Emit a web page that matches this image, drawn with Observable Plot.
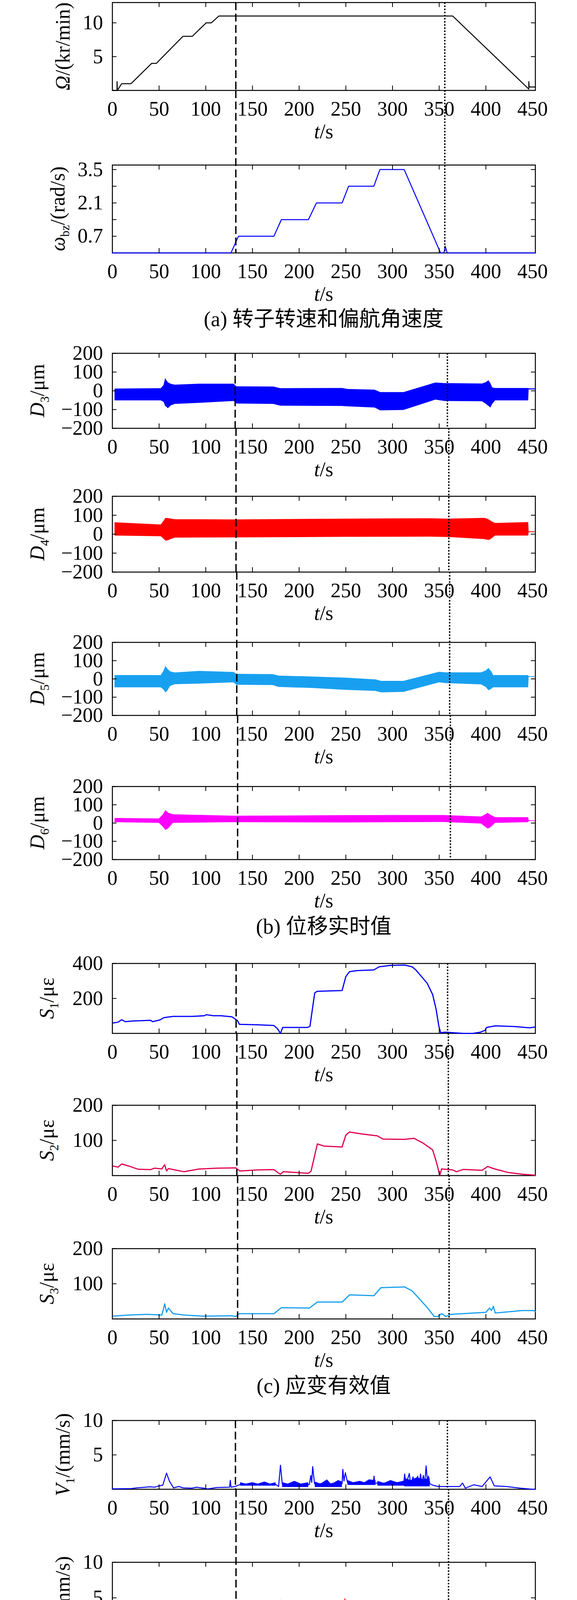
<!DOCTYPE html>
<html><head><meta charset="utf-8">
<script src="https://cdn.jsdelivr.net/npm/d3@7"></script>
<script src="https://cdn.jsdelivr.net/npm/@observablehq/plot@0.6"></script>
<style>
html,body{margin:0;background:#fff;}
#fig{position:relative;width:1476px;height:6280px;overflow:hidden;background:#fff;}
#fig svg text{font-family:'Liberation Serif','Times New Roman',serif !important;}
.cap{position:absolute;left:328px;width:1000px;text-align:center;font-family:'Liberation Serif','Noto Sans CJK SC',serif;font-size:54px;line-height:60px;color:#000;white-space:nowrap;}
</style></head><body><div id="fig"></div><script>
// ---------------- data ----------------
const xTicks = [0,50,100,150,200,250,300,350,400,450];
const captions = ["(a) 转子转速和偏航角速度","(b) 位移实时值","(c) 应变有效值","(d) 速度有效值","(e) 压力实时值"];

// (a) rotor speed (kr/min) and yaw rate (rad/s)
const rotorSpeed = [[0,0],[5,0],[5,1.3],[5.3,0],[10,1],[20,1],[42,4],[47,4],[75.5,8],[85.5,8],[100.5,10],[106,10],[114,11],[364.5,11],[446,0.2],[446,1.3],[446.4,0.5],[453,0.5]];
const yawRate = [[0,0],[127,0],[135,0.7],[173,0.7],[181,1.4],[210,1.4],[218.5,2.1],[246,2.1],[253,2.8],[280,2.8],[286.5,3.5],[312.5,3.5],[351.5,0],[355,0],[356.5,0.28],[358.5,0],[453,0]];

// (b) displacement envelopes [t, lower, upper] (µm)
const disp3 = [[2.5,-52,11],[52,-52,13],[55,-60,30],[56.6,-80,66],[59.6,-94,45],[63,-78,36],[67,-71,32],[93,-65,37],[130,-55,37],[133,-69,23],[172.6,-71,22],[180,-80,13],[246,-82,14],[252,-84,9],[281,-90,5],[287,-105,-8],[312,-103,-8],[346,-48,43],[356,-55,40],[396,-57,38],[400,-70,45],[403,-82,55],[405,-90,40],[407,-71,17],[410,-52,14],[445.5,-52,14],[446,6,12],[453,6,12]];
const disp4 = [[2.5,-8,62],[52,-12,50],[55,-25,70],[57,-35,85],[60,-33,84],[62,-28,82],[67,-19,78],[130,-18,77],[250,-15,81],[340,-14,83],[360,-16,81],[398,-27,85],[401,-30,82],[404,-31,75],[407,-20,65],[410,-8,58],[445.5,-8,63],[446,10,14],[453,10,14]];
const disp5 = [[2.5,-47,20],[52,-47,20],[55,-60,45],[57,-75,70],[59,-65,55],[62,-40,40],[67,-30,34],[93,-27,43],[130,-20,37],[133,-33,27],[172,-35,25],[178,-45,17],[215,-51,12],[250,-61,6],[282,-67,-4],[288,-75,-12],[312,-72,-12],[350,-20,38],[357,-24,35],[395,-31,35],[400,-45,45],[403,-63,59],[406,-55,40],[408,-47,20],[445.5,-47,20],[446,10,14],[453,10,14]];
const disp6 = [[2.5,4,27],[50,0,24],[54,-20,45],[57,-39,70],[60,-30,55],[65,0,47],[130,4,39],[250,2,42],[355,5,43],[395,-4,35],[399,-20,45],[402,-31,55],[405,-25,45],[410,0,31],[445.5,4,31],[446,10,14],[453,10,14]];

// (c) strain RMS (µε)
const strain1 = [[0.8,60],[6,64],[10,78],[14,67],[21.7,71],[41,75],[43,67],[51,77],[55,90],[65,97],[85,97],[98.5,101],[100.5,107],[108,101],[116,101],[128,95],[134,73],[136,52],[155.6,49],[173,45],[177,26],[180,0],[182.4,34],[209,34],[211.6,41],[216.7,232],[219.5,241],[246,245],[250,325],[254,353],[262,359],[280,363],[285.7,381],[297.5,389],[313,391],[321,381],[325,363],[337,288],[343,222],[346.7,138],[349.5,45],[351.5,4],[356.6,7],[364.5,4],[376,0],[386,0],[394,7],[399,17],[400.7,34],[410,43],[431,39],[447,32],[453,37]];
const strain2 = [[1,27],[6,24],[10,33],[17.7,27],[27.6,18],[41,17],[45,21],[53,19],[56,31],[58,13],[60,20],[69,15],[77,11],[92.6,18.5],[112,21],[132,22],[136.7,13],[155.6,16],[173,17],[177,9],[180,4],[183,11],[210,6.5],[212.8,13],[219.5,90],[226.6,84],[246,81.5],[250,115],[254,124],[268,118],[283.7,113],[289.6,104],[313,103],[323,106],[333,92],[343,73],[346.7,41],[350.7,1],[352.6,19],[364.5,16],[368.4,11],[376,17.6],[396,15],[402,26],[408,20],[423.6,9],[439,4],[453,1]];
const strain3 = [[1,8],[17.7,11],[37.4,13],[53,11],[56,43],[58,19],[60,31],[65,15],[77,11],[96.5,8],[128,9],[132,7],[136,15],[173,15],[181,32],[211,31],[219.5,48],[246,48],[254,68.5],[280,66],[287.6,89],[313,91],[321,80],[337,33],[344.7,7],[348.7,7],[352.6,15],[357,7],[362.5,13],[400,19],[404,31],[406,24],[408,36],[410,17],[439,24],[451,24],[453,21]];

// (d) velocity RMS (mm/s): trace + noisy bands [t, lower, upper]
const vel1 = [[0,0.05],[20,0.1],[26,0.2],[35,0.3],[40,0.35],[45,0.3],[49,0.45],[54,0.6],[58,2.35],[61,1.2],[65.5,0.2],[71,0.4],[76,0.2],[85,0.16],[90,0.3],[95,0.2],[98,0.16],[102,0.05],[112,0.25],[125.5,0.3],[126.3,1.3],[127,0.3],[131.5,0.4],[137,0.7],[175,0.7],[178,0.4],[180,3.5],[182,0.7],[211,0.7],[212.5,2.0],[213.5,1.0],[214.5,3.3],[216.5,0.8],[246,0.8],[246.8,2.9],[248,1.2],[249.5,2.4],[252,0.9],[279.5,0.9],[280.2,1.9],[281,0.9],[312,0.9],[313,2.2],[314.5,0.7],[318,2.3],[319.5,0.7],[322,1.8],[323.5,0.7],[327,1.9],[328.5,0.7],[330,2.2],[331.5,0.8],[333,2.0],[334.5,0.8],[336,3.4],[337.5,1.0],[338.5,1.9],[340,0.8],[343,0.6],[349,0.4],[372,0.4],[375,0.9],[378,0.16],[387,0.65],[396,0.4],[404.5,1.8],[409,0.5],[422,0.4],[437,0.16],[450,0],[453,0]];
const vel1Band = [[137,0.5,1.0],[143,0.5,0.8],[150,0.5,1.0],[156,0.5,0.8],[163,0.5,1.1],[169,0.5,0.8],[175,0.5,1.0],null,[182,0.3,1.0],[188,0.3,0.8],[195,0.3,1.2],[202,0.3,0.8],[210,0.3,1.0],null,[217,0.3,1.1],[223,0.3,0.8],[230,0.3,1.4],[234,0.3,0.8],[238,0.3,1.0],[242,0.3,1.3],[246,0.3,1.1],null,[252,0.6,1.3],[258,0.6,1.0],[265,0.6,1.2],[270,0.6,1.0],[275,0.6,1.4],[282,0.6,1.3],null,[284,0.5,1.2],[291,0.5,0.9],[298,0.5,1.3],[305,0.5,1.0],[312,0.5,1.2],[313,0.4,1.6],[320,0.4,1.3],[326,0.4,1.7],[333,0.4,1.4],[340,0.4,1.6]];
const vel2 = [[0,0.1],[30,0.2],[50,0.4],[56,0.6],[58,1.5],[60.5,0.5],[62.5,1.1],[65,0.4],[73,0.25],[85,0.25],[88,0.5],[99,0.5],[102,0.6],[125.5,0.6],[126.3,1.9],[127,0.6],[131.5,0.7],[137,1.0],[175,1.0],[178,0.9],[180,4.65],[183,1.3],[211,1.5],[212.5,3.0],[213.5,1.8],[214.5,4.25],[216.5,1.2],[246,1.4],[249,4.84],[250.5,2.0],[251.5,3.5],[253,1.3],[279.5,1.4],[280.2,3.76],[281,1.2],[287,1.5],[312,1.6],[313.5,4.25],[315,1.2],[318,3.5],[319.5,1.2],[324,3.3],[325.5,1.2],[330,3.6],[331.5,1.4],[336,4.5],[338,1.5],[343,1.1],[349,0.7],[357,0.7],[360,0.5],[393,0.5],[399,1.0],[401,0.6],[404,1.2],[406,0.6],[413,0.45],[437,0.43],[450,0.05],[453,0.05]];
const vel2Band = [[133,0.7,1.5],[141,0.7,1.2],[150,0.7,1.4],[158,0.7,1.2],[165,0.7,1.6],[175,0.7,1.5],null,[184,0.9,2.2],[190,0.9,1.6],[197,0.9,1.9],[204,0.9,1.5],[210,0.9,2.2],null,[218,0.7,2.3],[224,0.7,1.6],[228,0.7,2.8],[233,0.7,1.7],[238,0.7,2.0],[242,0.7,2.6],[246,0.7,2.3],null,[253,0.7,2.3],[259,0.7,1.7],[266,0.7,2.0],[272,0.7,1.6],[279,0.7,2.3],null,[287,0.7,2.9],[293,0.7,2.0],[300,0.7,2.5],[306,0.7,1.9],[312,0.7,2.9],[313,0.7,3.0],[320,0.7,2.4],[327,0.7,3.2],[334,0.7,2.6],[341,0.7,3.0]];
const vel3 = [[0,0.3],[45,0.3],[51,0.4],[57,1.5],[60,0.7],[62.5,1.37],[65.5,0.7],[69,1.27],[74,0.3],[85,0.3],[90,0.7],[98,0.9],[105,0.7],[111,0.43],[126,0.43],[131,0.6],[175,0.7],[178,0.6],[180,3.27],[182,0.8],[211,0.9],[213,2.0],[214,1.2],[215,2.94],[217,0.9],[246,0.9],[247,2.75],[249,1.0],[279.5,1.0],[280.2,1.8],[281,0.9],[312,0.9],[314,2.0],[316,0.9],[322,2.1],[324,0.9],[329,2.0],[331,0.9],[335,3.04],[337,1.0],[343,0.5],[349,0.4],[366,0.4],[369,0.8],[375,0.8],[384,0.3],[393,1.0],[399,0.7],[406,1.27],[410,0.4],[422,0.45],[436,0.2],[453,0.2]];
const vel3Band = [[131,0.5,0.9],[145,0.5,0.7],[160,0.5,0.9],[175,0.5,0.9],null,[183,0.6,1.1],[195,0.6,0.9],[208,0.6,1.1],null,[218,0.6,1.3],[228,0.6,1.0],[238,0.6,1.3],[246,0.6,1.3],null,[252,0.6,1.4],[262,0.6,1.1],[272,0.6,1.4],[281,0.6,1.4],null,[287,0.6,1.4],[298,0.6,1.1],[312,0.6,1.4],[313,0.6,2.0],[320,0.6,1.6],[327,0.6,2.1],[334,0.6,1.7],[341,0.6,2.0]];
const vel4 = [[0,0.15],[45,0.15],[51,0.5],[58,2.1],[64,0.33],[70,1.3],[74,0.43],[93,0.43],[98,0.24],[104,0.14],[111,0.14],[114,0.43],[125.5,0.43],[126.3,1.6],[127,0.5],[131,0.7],[175,0.7],[178,0.6],[180,4.06],[182,1.0],[211,1.0],[213,2.5],[214,1.4],[215,3.86],[217,1.0],[246,1.2],[249,4.25],[251,1.2],[279.5,1.2],[280.2,3.27],[281,1.0],[287,1.3],[312,1.3],[313.5,3.86],[315,1.0],[318,3.2],[320,1.0],[325,3.0],[327,1.0],[331,3.0],[333,1.0],[336,3.86],[338,1.2],[343,0.9],[349,0.43],[360,0.43],[366,0.14],[387,0.14],[393,1.2],[397,0.2],[404.5,1.5],[412,0.2],[420,0.14],[453,0.14]];
const vel4Band = [[131,0.43,1.0],[145,0.43,0.8],[160,0.43,1.0],[175,0.43,1.0],null,[183,0.5,1.5],[196,0.5,1.2],[210,0.5,1.5],null,[218,0.33,2.1],[225,0.33,1.4],[232,0.33,2.0],[239,0.33,1.4],[246,0.33,2.1],null,[252,0.43,2.1],[260,0.43,1.5],[268,0.43,1.9],[275,0.43,1.4],[281,0.43,2.1],null,[287,0.33,2.5],[294,0.33,1.8],[300,0.33,2.3],[306,0.33,1.8],[312,0.33,2.5],[313,0.33,3.0],[320,0.33,2.4],[327,0.33,3.1],[334,0.33,2.5],[341,0.33,3.0]];

// (e) pressure envelopes [t, lower, upper] (kPa)
const pres1 = [[0,43,47],[3,43,47],[6.8,27,70],[14,5,86],[24,0,99],[32,-2,91],[43,0,80],[48,-5,102],[56,-8,105],[58,-11,118],[61,5,86],[76,14,72],[114,21,75],[128.5,24,80],[131.5,5,99],[134.5,2,107],[155,-11,113],[178,-11,129],[202,-11,132],[212,-5,136],[215,-54,199],[246,-64,204],[247.6,-75,231],[260.6,-97,236],[283,-86,238],[286,-11,177],[305,-11,177],[322,-11,193],[343,-5,166],[344.5,-38,156],[351.6,27,91],[360,27,80],[395.6,0,80],[401.5,-32,123],[406,-32,118],[409,11,80],[425,0,86],[431,-11,107],[441,0,80],[445.5,43,47],[453,43,47]];
const pres2 = [[0,43,47],[3,43,47],[8,11,85],[40.5,-5,106],[49,-32,143],[55,-50,160],[57,-96,223],[58.5,-60,170],[60,-42,154],[67,-32,138],[76,-5,90],[99,5,101],[128.5,11,117],[133,-27,149],[178.5,-32,154],[202,-32,159],[246,-32,157],[250,-74,175],[283,-74,175],[287,-27,133],[319,-21,143],[343,-27,175],[351.6,-11,143],[360,-11,138],[378,-42,186],[395.6,-53,196],[404,-60,200],[406,-85,223],[408,-50,180],[413,-32,149],[434,-21,133],[444,27,64],[446,43,47],[453,43,47]];
const pres3 = [[0,57,61],[3.8,57,61],[9.7,-18,160],[20,-67,180],[26,-106,298],[30,-136,317],[37.6,-116,317],[42,-87,234],[49,-77,248],[58,-101,288],[64,-77,253],[73,-67,209],[90,-57,224],[96,-23,180],[103.6,-13,160],[128.5,-33,184],[134.5,-37,189],[172.6,-57,184],[178.5,-3,150],[213.7,12,150],[216.6,12,115],[249,12,110],[253,12,83],[290,4,86],[331,12,105],[337,-8,150],[348.7,-67,209],[354.6,-92,239],[357,-60,200],[360.5,-47,229],[366,-37,234],[384,-87,239],[395.6,-126,298],[407,-131,367],[410,-125,310],[428,-121,342],[437,-57,199],[444.4,32,81],[446,57,61],[453,57,61]];

// event times (dashed / dotted) per panel
const dashT = [132.2,132.2,131.5,132.4,133.2,134.1,132.5,133.3,134.1,131.8,132.4,133.5,134.1,132.4,133.2,133.8];
const dotT  = [356,356,358.8,360.3,361.2,362,359,359.8,360.6,358.8,360,361.2,361.8,360.3,361.2,361.8];

// ---------------- layout ----------------
const FONT = "'Liberation Serif','Times New Roman',serif";
const W = 1476, ML = 287, MR = 107, FW = W - ML - MR;
const frames = [[6,231],[422,647],[904,1096],[1270,1464],[1644,1831],[2013,2200],[2466,2645],[2829,3009],[3196,3376],[3636,3812],[3999,4181],[4359,4540],[4720,4902],[5160,5342],[5521,5707],[5882,6069]];
const group = [0,0,1,1,1,1,2,2,2,3,3,3,3,4,4,4];
const capY = [817,2372,3548,5071,6246];

const BLUE="#0000ff", RED="#ff0000", LBLUE="#18a0f0", MAG="#ff00ff", CRIM="#e0004e";
const rows = a => a.map(d => d ?? [NaN,NaN,NaN]);
const lineM = (a,c,w=2.5) => Plot.line(a,{x:d=>d[0],y:d=>d[1],stroke:c,strokeWidth:w});
const bandM = (a,c) => Plot.areaY(rows(a),{x:d=>d[0],y1:d=>d[1],y2:d=>d[2],fill:c});

const D = [-200,-100,0,100,200], P = [-138,0,138,276,414];
const panels = [
  {label:[["Ω","i"],["/(kr/min)"]], lx:178, domain:[0,13], ticks:[5,10], labels:[5,10], marks:[lineM(rotorSpeed,"black",2.5)]},
  {label:[["ω","i"],["bz","sub"],["/(rad/s)"]], lx:165, domain:[0,3.69], ticks:[0.7,1.4,2.1,2.8,3.5], labels:[0.7,2.1,3.5], marks:[lineM(yawRate,BLUE,2.5)]},
  {label:[["D","i"],["3","sub"],["/μm"]], lx:113, domain:[-200,200], ticks:D, labels:D, marks:[bandM(disp3,BLUE)]},
  {label:[["D","i"],["4","sub"],["/μm"]], lx:113, domain:[-200,200], ticks:D, labels:D, marks:[bandM(disp4,RED)]},
  {label:[["D","i"],["5","sub"],["/μm"]], lx:113, domain:[-200,200], ticks:D, labels:D, marks:[bandM(disp5,LBLUE)]},
  {label:[["D","i"],["6","sub"],["/μm"]], lx:113, domain:[-200,200], ticks:D, labels:D, marks:[bandM(disp6,MAG)]},
  {label:[["S","i"],["1","sub"],["/με"]], lx:137, domain:[0,400], ticks:[200,400], labels:[200,400], marks:[lineM(strain1,BLUE,3)]},
  {label:[["S","i"],["2","sub"],["/με"]], lx:137, domain:[0,200], ticks:[100,200], labels:[100,200], marks:[lineM(strain2,CRIM,3)]},
  {label:[["S","i"],["3","sub"],["/με"]], lx:137, domain:[0,200], ticks:[100,200], labels:[100,200], marks:[lineM(strain3,LBLUE,3)]},
  {label:[["V","i"],["1","sub"],["/(mm/s)"]], lx:178, domain:[0,10], ticks:[5,10], labels:[5,10], marks:[bandM(vel1Band,BLUE),lineM(vel1,BLUE,2.5)]},
  {label:[["V","i"],["2","sub"],["/(mm/s)"]], lx:178, domain:[0,10], ticks:[5,10], labels:[5,10], marks:[bandM(vel2Band,RED),lineM(vel2,RED,2.5)]},
  {label:[["V","i"],["3","sub"],["/(mm/s)"]], lx:178, domain:[0,10], ticks:[5,10], labels:[5,10], marks:[bandM(vel3Band,LBLUE),lineM(vel3,LBLUE,2.5)]},
  {label:[["V","i"],["4","sub"],["/(mm/s)"]], lx:178, domain:[0,10], ticks:[5,10], labels:[5,10], marks:[bandM(vel4Band,MAG),lineM(vel4,MAG,2.5)]},
  {label:[["p","i"],["1","sub"],["/kPa"]], lx:126, domain:[-138,414], ticks:P, labels:P, marks:[bandM(pres1,BLUE)]},
  {label:[["p","i"],["2","sub"],["/kPa"]], lx:126, domain:[-138,414], ticks:P, labels:P, marks:[bandM(pres2,RED)]},
  {label:[["p","i"],["3","sub"],["/kPa"]], lx:126, domain:[-138,414], ticks:P, labels:P, marks:[bandM(pres3,LBLUE)]},
];

const fmt = d => d < 0 ? "\u2212" + Math.abs(d) : String(d);
const fig = document.getElementById("fig");
const innerX = xTicks.filter(t => t > 0 && t < 450);

panels.forEach((p, i) => {
  const [top, bot] = frames[i];
  const fh = bot - top;
  const first = i === 0 || group[i-1] !== group[i];
  // a panel that continues a group starts its svg at the previous frame's bottom,
  // so its event rules run up through the gap between the two frames
  const svgTop = first ? top - (i === 0 ? 6 : 40) : frames[i-1][1];
  const mt = top - svgTop;
  const mb = 145;
  const h = mt + fh + mb;
  const svg = Plot.plot({
    width: W, height: h, marginTop: mt, marginBottom: mb, marginLeft: ML, marginRight: MR,
    x: {domain: [0, 453]},
    y: {domain: p.domain},
    style: {fontFamily: FONT, fontSize: "52px", background: "transparent", overflow: "visible"},
    marks: [
      Plot.frame({stroke: "black", strokeWidth: 2.5}),
      ...p.marks,
      Plot.tickX(innerX, {x: d => d, insetTop: fh - 12, stroke: "black", strokeWidth: 2}),
      Plot.tickX(innerX, {x: d => d, insetBottom: fh - 12, stroke: "black", strokeWidth: 2}),
      Plot.tickY(p.ticks, {y: d => d, insetRight: FW - 11, stroke: "black", strokeWidth: 2}),
      Plot.tickY(p.ticks, {y: d => d, insetLeft: FW - 11, stroke: "black", strokeWidth: 2}),
      Plot.axisX({ticks: xTicks, tickSize: 0, tickPadding: 28, fontSize: 52, fontFamily: FONT, label: null, tickFormat: fmt}),
      Plot.axisY({ticks: p.labels, tickSize: 0, tickPadding: 24, fontSize: 52, fontFamily: FONT, label: null, tickFormat: fmt}),
      Plot.ruleX([dashT[i]], {x: d => d, stroke: "black", strokeWidth: 3.5, strokeDasharray: "20,9", insetTop: first ? 0 : -mt}),
      Plot.ruleX([dotT[i]], {x: d => d, stroke: "black", strokeWidth: 3.5, strokeDasharray: "4,4", insetTop: first ? 0 : -mt})
    ]
  });
  svg.style.position = "absolute";
  svg.style.left = "0px";
  svg.style.top = svgTop + "px";
  svg.style.background = "transparent";
  svg.style.overflow = "visible";
  svg.style.fontFamily = FONT;
  const s = d3.select(svg);
  const yl = s.append("text")
    .attr("transform", `translate(${p.lx},${mt + fh / 2}) rotate(-90)`)
    .attr("text-anchor", "middle").attr("font-size", 52).attr("fill", "black");
  let shift = 0;
  for (const [txt, kind] of p.label) {
    const t = yl.append("tspan").text(txt);
    if (kind === "i") t.attr("font-style", "italic");
    if (kind === "sub") { t.attr("font-size", 32).attr("dy", 12); shift = 12; }
    else if (shift) { t.attr("dy", -shift); shift = 0; }
  }
  const xl = s.append("text").attr("x", ML + FW / 2).attr("y", mt + fh + 123)
    .attr("text-anchor", "middle").attr("font-size", 52).attr("fill", "black");
  xl.append("tspan").attr("font-style", "italic").text("t");
  xl.append("tspan").text("/s");
  s.selectAll("text").style("font-family", FONT);
  fig.appendChild(svg);
});

captions.forEach((c, k) => {
  const d = document.createElement("div");
  d.className = "cap";
  d.style.top = (capY[k] - 30) + "px";
  d.textContent = c;
  fig.appendChild(d);
});
</script></body></html>
